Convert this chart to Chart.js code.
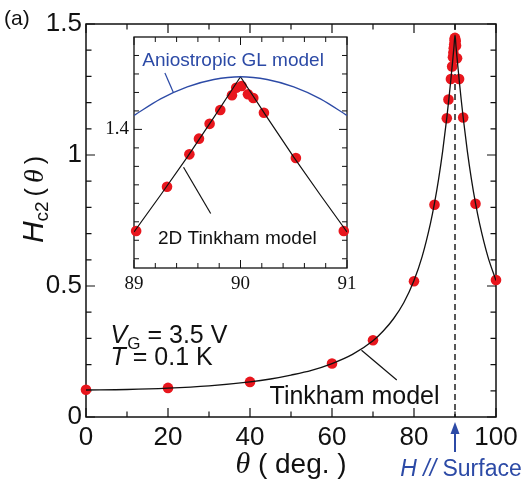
<!DOCTYPE html>
<html>
<head>
<meta charset="utf-8">
<script src="https://cdn.jsdelivr.net/npm/chart.js@4.4.1/dist/chart.umd.min.js"></script>
<style>
  html, body { margin: 0; padding: 0; background: #fff; }
  #wrap { position: relative; width: 526px; height: 483px; overflow: hidden; }
  #main { position: absolute; left: 0; top: 0; }
  #inset { position: absolute; left: 100px; top: 17px; }
</style>
</head>
<body>
<div id="wrap">
  <canvas id="main" width="526" height="483"></canvas>
  <canvas id="inset" width="262" height="285"></canvas>
</div>
<script>
(() => {
  "use strict";

  // ── data ────────────────────────────────────────────────────────────────
  // measured Hc2(theta), main panel
  const measTheta = [0, 20, 40, 60, 70, 80, 85, 88, 88.4, 89, 89.3, 89.5, 89.6, 89.7, 89.8, 89.9, 89.95, 90, 90.1, 90.15, 90.25, 90.5, 91, 92, 95, 100];
  const measH = [0.104, 0.111, 0.134, 0.204, 0.293, 0.518, 0.81, 1.14, 1.212, 1.29, 1.338, 1.373, 1.39, 1.407, 1.422, 1.437, 1.445, 1.447, 1.438, 1.434, 1.418, 1.369, 1.29, 1.143, 0.814, 0.523];

  // Tinkham model curve, main panel
  const tinkhamTheta = [0, 10, 20, 30, 40, 45, 50, 55, 60, 65, 70, 72.5, 75, 77.5, 80, 82, 84, 85, 86, 87, 88, 88.5, 89, 89.5, 89.75, 90, 90.25, 90.5, 91, 91.5, 92, 93, 94, 95, 96, 98, 100];
  const tinkhamH = [0.103, 0.105, 0.110, 0.119, 0.134, 0.145, 0.160, 0.178, 0.204, 0.239, 0.291, 0.328, 0.375, 0.436, 0.521, 0.613, 0.738, 0.816, 0.908, 1.016, 1.142, 1.213, 1.289, 1.370, 1.413, 1.457, 1.413, 1.370, 1.289, 1.213, 1.142, 1.016, 0.908, 0.816, 0.738, 0.613, 0.521];

  // inset: measured points near 90 deg
  const insetTheta = [89.02, 89.31, 89.52, 89.61, 89.71, 89.81, 89.92, 89.96, 90.01, 90.07, 90.12, 90.22, 90.52, 90.97];
  const insetH = [1.290, 1.338, 1.373, 1.390, 1.406, 1.421, 1.437, 1.445, 1.447, 1.438, 1.434, 1.418, 1.369, 1.290];

  // inset: model curves
  const glTheta = [89, 89.25, 89.5, 89.75, 90, 90.25, 90.5, 90.75, 91];
  const glH = [1.415, 1.433, 1.446, 1.454, 1.457, 1.454, 1.446, 1.433, 1.415];
  const tink2dTheta = [89, 89.25, 89.5, 89.75, 90, 90.25, 90.5, 90.75, 91];
  const tink2dH = [1.289, 1.329, 1.370, 1.413, 1.457, 1.413, 1.370, 1.329, 1.289];

  // ticks
  const mainXTicks = [0, 10, 20, 30, 40, 50, 60, 70, 80, 90, 100];
  const mainXLabels = [0, 20, 40, 60, 80, 100];
  const mainYTicks = [0, 0.1, 0.2, 0.3, 0.4, 0.5, 0.6, 0.7, 0.8, 0.9, 1, 1.1, 1.2, 1.3, 1.4, 1.5];
  const mainYLabels = [0, 0.5, 1, 1.5];
  const insetXTicks = [89, 89.2, 89.4, 89.6, 89.8, 90, 90.2, 90.4, 90.6, 90.8, 91];
  const insetXLabels = [89, 90, 91];
  const insetYTicks = [1.26, 1.28, 1.3, 1.32, 1.34, 1.36, 1.38, 1.4, 1.42, 1.44, 1.46, 1.48];
  const insetYLabels = [1.4];

  const surfaceAngle = 90;

  const RED = "#e8161d";
  const BLUE = "#2c4aa6";
  const INK = "#111";
  const SANS = "'Liberation Sans', Arial, sans-serif";
  const SERIF = "'Liberation Serif', 'Times New Roman', serif";

  const pts = (xs, ys) => xs.map((x, i) => ({ x, y: ys[i] }));

  // draw a row of text pieces with different fonts: [text, font, dy]
  function textRun(ctx, parts, x, y, align) {
    let w = 0;
    for (const p of parts) { ctx.font = p[1]; w += ctx.measureText(p[0]).width; }
    let cx = align === "center" ? x - w / 2 : align === "right" ? x - w : x;
    ctx.textAlign = "left";
    ctx.textBaseline = "alphabetic";
    for (const p of parts) {
      ctx.font = p[1];
      ctx.fillText(p[0], cx, y + (p[2] || 0));
      cx += ctx.measureText(p[0]).width;
    }
  }

  // frame + inward ticks on all four sides
  function frameTicks(chart, o) {
    const { ctx, chartArea: a } = chart;
    const x = chart.scales.x, y = chart.scales.y;
    ctx.save();
    ctx.strokeStyle = INK;
    ctx.lineWidth = o.tickWidth;
    ctx.beginPath();
    for (const v of o.xTicks) {
      const px = x.getPixelForValue(v);
      const len = o.xMajor.includes(v) ? o.major : o.minor;
      ctx.moveTo(px, a.bottom); ctx.lineTo(px, a.bottom - len);
      ctx.moveTo(px, a.top); ctx.lineTo(px, a.top + len);
    }
    for (const v of o.yTicks) {
      const py = y.getPixelForValue(v);
      const len = o.yMajor.includes(v) ? o.major : o.minor;
      ctx.moveTo(a.left, py); ctx.lineTo(a.left + len, py);
      ctx.moveTo(a.right, py); ctx.lineTo(a.right - len, py);
    }
    ctx.stroke();
    ctx.lineWidth = o.frameWidth;
    ctx.strokeRect(a.left, a.top, a.right - a.left, a.bottom - a.top);
    ctx.restore();
  }

  function leader(ctx, chart, x0, y0, x1, y1, color) {
    const x = chart.scales.x, y = chart.scales.y;
    ctx.save();
    ctx.strokeStyle = color;
    ctx.lineWidth = 1.2;
    ctx.beginPath();
    ctx.moveTo(x.getPixelForValue(x0), y.getPixelForValue(y0));
    ctx.lineTo(x.getPixelForValue(x1), y.getPixelForValue(y1));
    ctx.stroke();
    ctx.restore();
  }

  const dotStyle = {
    pointRadius: 5.3,
    backgroundColor: RED,
    borderColor: RED,
    pointBackgroundColor: RED,
    pointBorderColor: RED,
    pointBorderWidth: 0,
    borderWidth: 0,
    clip: false,
  };

  // ── main panel ──────────────────────────────────────────────────────────
  const mainDecor = {
    id: "mainDecor",
    beforeDatasetsDraw(chart) {
      const { ctx, chartArea: a } = chart;
      const px = chart.scales.x.getPixelForValue(surfaceAngle);
      ctx.save();
      ctx.strokeStyle = INK;
      ctx.lineWidth = 1.4;
      ctx.setLineDash([6, 4]);
      ctx.beginPath();
      ctx.moveTo(px, a.top);
      ctx.lineTo(px, a.bottom);
      ctx.stroke();
      ctx.restore();
      frameTicks(chart, {
        xTicks: mainXTicks, xMajor: mainXLabels, yTicks: mainYTicks, yMajor: mainYLabels,
        major: 9, minor: 5.5, tickWidth: 1.2, frameWidth: 1.5,
      });
    },
    afterDraw(chart) {
      const { ctx, chartArea: a } = chart;
      const x = chart.scales.x, y = chart.scales.y;
      ctx.save();
      ctx.fillStyle = INK;

      textRun(ctx, [["(a)", `21px ${SANS}`]], 4, 25, "left");

      // y title
      ctx.save();
      ctx.translate(43, y.getPixelForValue(0.83));
      ctx.rotate(-Math.PI / 2);
      textRun(ctx, [
        ["H", `italic 30px ${SANS}`],
        ["c2", `19px ${SANS}`, 5],
        ["\u2009(\u2009", `25px ${SANS}`],
        ["\u03b8", `italic 28px ${SERIF}`],
        ["\u2009)", `25px ${SANS}`],
      ], 0, 0, "center");
      ctx.restore();

      // x title
      textRun(ctx, [
        ["\u03b8", `italic 30px ${SERIF}`],
        [" ( deg. )", `28px ${SANS}`],
      ], (a.left + a.right) / 2, 473, "center");

      // conditions
      textRun(ctx, [
        ["V", `italic 25px ${SANS}`],
        ["G", `17px ${SANS}`, 6],
        [" = 3.5 V", `25px ${SANS}`],
      ], x.getPixelForValue(6), 343, "left");
      textRun(ctx, [
        ["T", `italic 25px ${SANS}`],
        [" = 0.1 K", `25px ${SANS}`],
      ], x.getPixelForValue(6), 365, "left");

      // Tinkham label + leader
      textRun(ctx, [["Tinkham model", `25px ${SANS}`]], x.getPixelForValue(65.5), 404, "center");
      leader(ctx, chart, 67.2, 0.255, 75.8, 0.141, INK);

      // H // Surface marker
      const px = x.getPixelForValue(surfaceAngle);
      ctx.fillStyle = BLUE;
      ctx.strokeStyle = BLUE;
      ctx.lineWidth = 2;
      ctx.beginPath();
      ctx.moveTo(px, a.bottom + 14);
      ctx.lineTo(px, a.bottom + 35);
      ctx.stroke();
      ctx.beginPath();
      ctx.moveTo(px, a.bottom + 5);
      ctx.lineTo(px - 4.5, a.bottom + 17);
      ctx.lineTo(px + 4.5, a.bottom + 17);
      ctx.closePath();
      ctx.fill();
      textRun(ctx, [
        ["H //", `italic 23px ${SANS}`],
        [" Surface", `23px ${SANS}`],
      ], 461, 476, "center");
      ctx.restore();
    },
  };

  new Chart(document.getElementById("main"), {
    type: "scatter",
    data: {
      datasets: [
        {
          label: "Tinkham model",
          data: pts(tinkhamTheta, tinkhamH),
          showLine: true,
          borderColor: INK,
          borderWidth: 1.3,
          pointRadius: 0,
          cubicInterpolationMode: "monotone",
        },
        Object.assign({ label: "Hc2", data: pts(measTheta, measH) }, dotStyle),
      ],
    },
    options: {
      responsive: false,
      animation: false,
      events: [],
      layout: { padding: { top: 24, right: 30, left: 0, bottom: 0 }, autoPadding: false },
      plugins: { legend: { display: false }, tooltip: { enabled: false } },
      scales: {
        x: {
          type: "linear", min: 0, max: 100,
          grid: { display: false, drawTicks: false },
          border: { display: false },
          afterBuildTicks: (s) => { s.ticks = mainXTicks.map((v) => ({ value: v })); },
          afterFit: (s) => { s.height = 66; },
          ticks: {
            autoSkip: false, maxRotation: 0, padding: 5, color: INK,
            font: { family: SANS, size: 26 },
            callback: (v) => (mainXLabels.includes(v) ? String(v) : ""),
          },
        },
        y: {
          type: "linear", min: 0, max: 1.5,
          grid: { display: false, drawTicks: false },
          border: { display: false },
          afterBuildTicks: (s) => { s.ticks = mainYTicks.map((v) => ({ value: v })); },
          afterFit: (s) => { s.width = 86; },
          ticks: {
            autoSkip: false, padding: 4, color: INK,
            font: { family: SANS, size: 26 },
            callback: (v) => (mainYLabels.includes(v) ? String(v) : ""),
          },
        },
      },
    },
    plugins: [mainDecor],
  });

  // ── inset ───────────────────────────────────────────────────────────────
  const insetDecor = {
    id: "insetDecor",
    beforeDraw(chart) {
      const { ctx, chartArea: a } = chart;
      ctx.save();
      ctx.fillStyle = "#fff";
      ctx.fillRect(a.left, a.top, a.right - a.left, a.bottom - a.top);
      ctx.restore();
    },
    beforeDatasetsDraw(chart) {
      frameTicks(chart, {
        xTicks: insetXTicks, xMajor: insetXLabels, yTicks: insetYTicks, yMajor: insetYLabels,
        major: 8, minor: 5, tickWidth: 1, frameWidth: 1.3,
      });
    },
    afterDraw(chart) {
      const { ctx } = chart;
      const x = chart.scales.x, y = chart.scales.y;
      ctx.save();
      ctx.fillStyle = BLUE;
      textRun(ctx, [["Aniostropic GL model", `19px ${SANS}`]], x.getPixelForValue(89.93), y.getPixelForValue(1.469), "center");
      leader(ctx, chart, 89.37, 1.440, 89.29, 1.461, BLUE);
      ctx.fillStyle = INK;
      textRun(ctx, [["2D Tinkham model", `19px ${SANS}`]], x.getPixelForValue(89.97), y.getPixelForValue(1.2764), "center");
      leader(ctx, chart, 89.465, 1.359, 89.72, 1.309, INK);
      ctx.restore();
    },
  };

  new Chart(document.getElementById("inset"), {
    type: "scatter",
    data: {
      datasets: [
        {
          label: "Anisotropic GL model",
          data: pts(glTheta, glH),
          showLine: true,
          borderColor: BLUE,
          borderWidth: 1.3,
          pointRadius: 0,
          cubicInterpolationMode: "monotone",
        },
        {
          label: "2D Tinkham model",
          data: pts(tink2dTheta, tink2dH),
          showLine: true,
          borderColor: INK,
          borderWidth: 1.2,
          pointRadius: 0,
          tension: 0,
        },
        Object.assign({ label: "Hc2", data: pts(insetTheta, insetH) }, dotStyle),
      ],
    },
    options: {
      responsive: false,
      animation: false,
      events: [],
      layout: { padding: { top: 20, right: 15, left: 0, bottom: 0 }, autoPadding: false },
      plugins: { legend: { display: false }, tooltip: { enabled: false } },
      scales: {
        x: {
          type: "linear", min: 89, max: 91,
          grid: { display: false, drawTicks: false },
          border: { display: false },
          afterBuildTicks: (s) => { s.ticks = insetXTicks.map((v) => ({ value: v })); },
          afterFit: (s) => { s.height = 34; },
          ticks: {
            autoSkip: false, maxRotation: 0, padding: 5, color: INK,
            font: { family: SERIF, size: 19 },
            callback: (v) => (insetXLabels.includes(v) ? String(v) : ""),
          },
        },
        y: {
          type: "linear", min: 1.25, max: 1.5,
          grid: { display: false, drawTicks: false },
          border: { display: false },
          afterBuildTicks: (s) => { s.ticks = insetYTicks.map((v) => ({ value: v })); },
          afterFit: (s) => { s.width = 34; },
          ticks: {
            autoSkip: false, padding: 5, color: INK,
            font: { family: SERIF, size: 19 },
            callback: (v) => (insetYLabels.includes(v) ? String(v) : ""),
          },
        },
      },
    },
    plugins: [insetDecor],
  });
})();
</script>
</body>
</html>
